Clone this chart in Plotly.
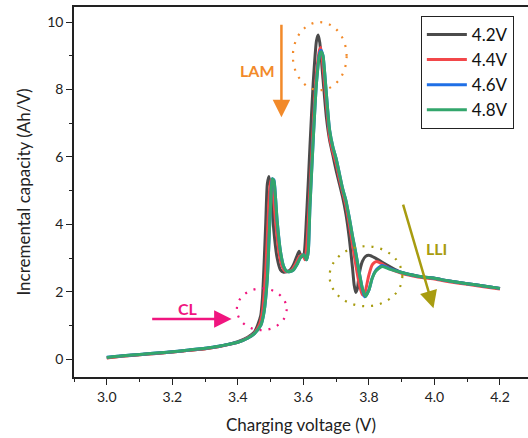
import plotly.graph_objects as go

# ---------------- data ----------------
series_names = ["4.2V", "4.4V", "4.6V", "4.8V"]
series_colors = ["#4b4b4b", "#f2474a", "#1f6fe6", "#33a66c"]

tail_v = [3.90, 3.95, 3.98, 4.00, 4.02, 4.05, 4.10, 4.15, 4.20]
tail_ic = [2.57, 2.46, 2.42, 2.40, 2.36, 2.31, 2.24, 2.17, 2.10]

v_42 = [3.00, 3.05, 3.10, 3.15, 3.20, 3.25, 3.30, 3.35, 3.40, 3.43, 3.45, 3.46, 3.47,
        3.475, 3.48, 3.485, 3.49, 3.495, 3.50, 3.505, 3.51, 3.52, 3.53, 3.54, 3.55,
        3.56, 3.57, 3.58, 3.587, 3.593, 3.60, 3.61, 3.62, 3.63, 3.64, 3.645, 3.65,
        3.66, 3.67, 3.68, 3.69, 3.70, 3.71, 3.72, 3.73, 3.74, 3.75, 3.755, 3.76,
        3.765, 3.77, 3.78, 3.79, 3.80, 3.82, 3.85, 3.88] + tail_v
ic_42 = [0.04, 0.09, 0.13, 0.17, 0.21, 0.26, 0.31, 0.39, 0.52, 0.65, 0.80, 1.00, 1.30,
         1.80, 2.80, 4.00, 5.20, 5.42, 5.10, 4.50, 3.80, 3.00, 2.65, 2.58, 2.60,
         2.65, 2.80, 3.05, 3.20, 3.05, 3.05, 4.30, 6.30, 8.20, 9.45, 9.62, 9.40,
         8.30, 7.20, 6.50, 6.05, 5.60, 5.20, 4.80, 4.30, 3.60, 2.70, 2.20, 1.98,
         2.10, 2.50, 2.90, 3.05, 3.08, 3.00, 2.82, 2.66] + tail_ic

v_44 = [3.00, 3.05, 3.10, 3.15, 3.20, 3.25, 3.30, 3.35, 3.40, 3.43, 3.45, 3.465, 3.475,
        3.485, 3.49, 3.495, 3.50, 3.505, 3.51, 3.515, 3.525, 3.535, 3.545, 3.555,
        3.565, 3.575, 3.585, 3.595, 3.60, 3.605, 3.61, 3.62, 3.63, 3.64, 3.65, 3.653,
        3.66, 3.67, 3.68, 3.69, 3.70, 3.71, 3.72, 3.73, 3.74, 3.75, 3.76, 3.77, 3.78,
        3.785, 3.79, 3.80, 3.81, 3.823, 3.84, 3.86] + tail_v
ic_44 = [0.03, 0.09, 0.13, 0.17, 0.21, 0.26, 0.31, 0.39, 0.50, 0.63, 0.77, 1.00, 1.40,
         2.60, 3.60, 4.70, 5.30, 5.20, 4.70, 4.10, 3.20, 2.75, 2.60, 2.60,
         2.65, 2.80, 3.00, 3.10, 3.05, 2.95, 3.30, 5.00, 6.90, 8.50, 9.20, 9.25,
         8.70, 7.60, 6.60, 6.15, 5.80, 5.35, 4.95, 4.55, 4.00, 3.40, 2.80, 2.25, 1.92,
         1.90, 2.05, 2.50, 2.80, 2.90, 2.83, 2.70] + [y - 0.02 for y in tail_ic]

v_46 = [3.00, 3.05, 3.10, 3.15, 3.20, 3.25, 3.30, 3.35, 3.40, 3.43, 3.45, 3.47, 3.48,
        3.49, 3.495, 3.50, 3.505, 3.51, 3.515, 3.52, 3.53, 3.54, 3.55, 3.56, 3.57,
        3.58, 3.59, 3.60, 3.605, 3.61, 3.615, 3.62, 3.63, 3.64, 3.65, 3.654, 3.66,
        3.665, 3.67, 3.68, 3.69, 3.70, 3.71, 3.72, 3.73, 3.74, 3.75, 3.76, 3.77, 3.78,
        3.787, 3.80, 3.81, 3.82, 3.84, 3.86] + tail_v
ic_46 = [0.06, 0.10, 0.14, 0.18, 0.22, 0.27, 0.32, 0.40, 0.50, 0.62, 0.75, 1.00, 1.40,
         2.40, 3.50, 4.60, 5.35, 5.32, 4.80, 4.10, 3.20, 2.75, 2.60, 2.60, 2.65,
         2.80, 3.00, 3.10, 3.05, 2.95, 3.20, 4.50, 6.50, 8.20, 9.10, 9.17, 9.00,
         8.50, 7.90, 6.80, 6.30, 5.95, 5.50, 5.05, 4.70, 4.20, 3.65, 3.15, 2.60, 2.10,
         1.85, 2.05, 2.40, 2.62, 2.78, 2.70] + tail_ic

v_48 = [3.00, 3.05, 3.10, 3.15, 3.20, 3.25, 3.30, 3.35, 3.40, 3.43, 3.45, 3.47, 3.48,
        3.49, 3.495, 3.50, 3.505, 3.51, 3.515, 3.52, 3.53, 3.54, 3.55, 3.56, 3.57,
        3.58, 3.59, 3.60, 3.605, 3.61, 3.615, 3.62, 3.63, 3.64, 3.65, 3.655, 3.66,
        3.665, 3.67, 3.68, 3.69, 3.70, 3.71, 3.72, 3.73, 3.74, 3.75, 3.76, 3.77, 3.78,
        3.79, 3.80, 3.81, 3.82, 3.84, 3.86] + tail_v
ic_48 = [0.05, 0.10, 0.14, 0.18, 0.22, 0.27, 0.32, 0.40, 0.50, 0.62, 0.75, 1.00, 1.40,
         2.40, 3.50, 4.60, 5.35, 5.30, 4.80, 4.10, 3.20, 2.75, 2.60, 2.60, 2.65,
         2.80, 3.00, 3.10, 3.05, 2.95, 3.20, 4.50, 6.50, 8.20, 9.05, 9.12, 9.00,
         8.50, 7.90, 6.80, 6.30, 5.95, 5.50, 5.05, 4.70, 4.20, 3.65, 3.15, 2.60, 2.10,
         1.86, 2.05, 2.40, 2.60, 2.75, 2.68] + tail_ic

series_v = [v_42, v_44, v_46, v_48]
series_ic = [ic_42, ic_44, ic_46, ic_48]

x_ticks = [3.0, 3.2, 3.4, 3.6, 3.8, 4.0, 4.2]
y_ticks = [0, 2, 4, 6, 8, 10]

FONT = "Lato"
ORANGE = "#f28a2a"
PINK = "#f0157f"
OLIVE = "#a89c10"

fig = go.Figure()
for name, col, v, ic in zip(series_names, series_colors, series_v, series_ic):
    fig.add_trace(go.Scatter(x=v, y=ic, mode="lines", name=name,
                             line=dict(color=col, width=3, shape="spline", smoothing=0.6)))

# dotted ellipses
def ellipse(cx, cy, rx, ry, color):
    fig.add_shape(type="circle", xref="x", yref="y",
                  x0=cx - rx, x1=cx + rx, y0=cy - ry, y1=cy + ry,
                  line=dict(color=color, width=2.2, dash="2px,7px"))

ellipse(3.650, 8.99, 0.082, 1.01, ORANGE)
ellipse(3.791, 2.46, 0.111, 0.89, OLIVE)
ellipse(3.473, 1.48, 0.076, 0.62, PINK)

# arrows
def arrow(x0, y0, x1, y1, color):
    fig.add_annotation(x=x1, y=y1, ax=x0, ay=y0, xref="x", yref="y", axref="x", ayref="y",
                       text="", showarrow=True, arrowhead=2, arrowsize=1.4,
                       arrowwidth=2.5, arrowcolor=color)

arrow(3.533, 9.97, 3.533, 7.18, ORANGE)
arrow(3.134, 1.19, 3.381, 1.19, PINK)
arrow(3.903, 4.63, 3.997, 1.51, OLIVE)

def label(x, y, t, color):
    fig.add_annotation(x=x, y=y, xref="x", yref="y", text="<b>" + t + "</b>", showarrow=False,
                       font=dict(family=FONT, size=16, color=color))

label(3.461, 8.58, "LAM", ORANGE)
label(3.247, 1.51, "CL", PINK)
label(4.006, 3.29, "LLI", OLIVE)

fig.update_layout(
    width=528, height=438,
    margin=dict(l=74, r=0, t=7, b=61),
    paper_bgcolor="white", plot_bgcolor="white",
    font=dict(family=FONT, size=14, color="#222222"),
    showlegend=True,
    legend=dict(x=0.764, y=0.976, xanchor="left", yanchor="top",
                bordercolor="#222222", borderwidth=1, bgcolor="white",
                font=dict(family=FONT, size=17, color="#111111"),
                itemwidth=40, tracegroupgap=0),
)
fig.update_xaxes(range=[2.9, 4.2855], tickvals=x_ticks, ticktext=[f"{t:.1f}" for t in x_ticks],
                 ticks="outside", ticklen=6, tickwidth=1.3, tickcolor="#222",
                 showline=True, linecolor="#222", linewidth=1.5, mirror=True,
                 showgrid=False, zeroline=False,
                 minor=dict(dtick=0.1, tick0=3.0, ticks="outside", ticklen=3.5, tickcolor="#222", tickwidth=1.2),
                 title=dict(text="Charging voltage (V)", font=dict(family=FONT, size=17, color="#222"), standoff=16))
fig.update_yaxes(range=[-0.53, 10.45], tickvals=y_ticks,
                 ticks="outside", ticklen=6, tickwidth=1.3, tickcolor="#222",
                 showline=True, linecolor="#222", linewidth=1.5, mirror=False,
                 showgrid=False, zeroline=False,
                 minor=dict(dtick=1, tick0=0, ticks="outside", ticklen=3.5, tickcolor="#222", tickwidth=1.2),
                 title=dict(text="Incremental capacity (Ah/V)", font=dict(family=FONT, size=17, color="#222"), standoff=12))

fig.write_html("out.html")
